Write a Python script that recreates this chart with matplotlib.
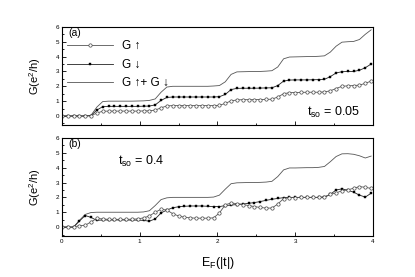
import numpy as np
import matplotlib
matplotlib.use("Agg")
import matplotlib.pyplot as plt
from matplotlib.lines import Line2D
from matplotlib.ticker import MultipleLocator

plt.rcParams["font.family"] = ["Liberation Sans", "DejaVu Sans"]
plt.rcParams["mathtext.default"] = "regular"

# energy grid E_F (|t|)
EF = np.round(np.arange(54) * 0.075, 3)

# ── (a) t_so = 0.05 ────────────────────────────────────────────────────────
A_UP = [0, 0, 0, 0, 0, 0.02, 0.20, 0.32, 0.33, 0.33, 0.33, 0.33, 0.33, 0.33,
        0.34, 0.35, 0.40, 0.55, 0.68, 0.70, 0.70, 0.70, 0.70, 0.70, 0.70, 0.70,
        0.70, 0.72, 0.85, 1.02, 1.08, 1.10, 1.10, 1.10, 1.11, 1.12, 1.13, 1.28,
        1.50, 1.57, 1.58, 1.59, 1.60, 1.60, 1.60, 1.62, 1.70, 1.85, 2.00, 2.03,
        2.05, 2.08, 2.20, 2.35]
A_DN = [0, 0, 0, 0, 0, 0.03, 0.40, 0.63, 0.65, 0.65, 0.65, 0.65, 0.65, 0.65,
        0.66, 0.67, 0.75, 1.05, 1.25, 1.28, 1.28, 1.28, 1.28, 1.28, 1.28, 1.28,
        1.28, 1.30, 1.45, 1.78, 1.86, 1.87, 1.87, 1.87, 1.88, 1.89, 1.90, 2.05,
        2.35, 2.42, 2.43, 2.43, 2.43, 2.44, 2.45, 2.47, 2.65, 2.90, 2.98, 3.00,
        3.00, 3.08, 3.25, 3.50]
A_TOT = [0, 0, 0, 0, 0, 0.05, 0.60, 0.97, 1.00, 1.00, 1.00, 1.00, 1.00, 1.01,
         1.02, 1.05, 1.15, 1.60, 1.95, 2.00, 2.00, 2.00, 2.00, 2.00, 2.00, 2.00,
         2.02, 2.05, 2.30, 2.80, 2.97, 2.98, 2.99, 3.00, 3.00, 3.02, 3.05, 3.30,
         3.85, 3.97, 3.98, 3.99, 4.00, 4.00, 4.02, 4.05, 4.30, 4.70, 4.97, 5.00,
         5.02, 5.15, 5.50, 5.80]

# ── (b) t_so = 0.4 ─────────────────────────────────────────────────────────
B_UP = [0, 0, 0, 0.10, 0.12, 0.35, 0.58, 0.55, 0.52, 0.52, 0.52, 0.52, 0.53,
        0.55, 0.62, 0.75, 1.00, 1.20, 1.15, 0.90, 0.75, 0.66, 0.62, 0.60, 0.60,
        0.60, 0.62, 0.95, 1.50, 1.62, 1.58, 1.52, 1.45, 1.38, 1.32, 1.28, 1.28,
        1.55, 1.92, 1.98, 1.99, 2.00, 2.00, 2.00, 2.00, 2.05, 2.20, 2.30, 2.45,
        2.50, 2.62, 2.72, 2.68, 2.60]
B_DN = [0, 0, 0, 0.40, 0.78, 0.65, 0.45, 0.48, 0.48, 0.48, 0.48, 0.48, 0.47,
        0.47, 0.45, 0.40, 0.55, 0.95, 1.15, 1.30, 1.37, 1.40, 1.42, 1.42, 1.42,
        1.40, 1.38, 1.38, 1.45, 1.48, 1.52, 1.55, 1.60, 1.65, 1.72, 1.80, 1.87,
        1.93, 1.98, 2.00, 2.00, 2.00, 2.00, 2.00, 2.00, 2.00, 2.20, 2.50, 2.57,
        2.48, 2.35, 2.15, 2.02, 2.28]
B_TOT = [0, 0, 0, 0.45, 0.85, 0.98, 1.00, 1.00, 1.00, 1.00, 1.00, 1.00, 1.00,
         1.00, 1.02, 1.10, 1.45, 1.85, 1.97, 2.00, 2.00, 2.00, 2.00, 2.00, 2.00,
         2.00, 2.02, 2.15, 2.55, 2.92, 2.98, 2.99, 3.00, 3.00, 3.01, 3.03, 3.08,
         3.40, 3.85, 3.98, 3.98, 3.99, 4.00, 4.00, 4.02, 4.08, 4.40, 4.75, 4.93,
         4.94, 4.90, 4.80, 4.65, 4.78]

LABELS = ["G \u2191", "G \u2193", "G \u2191+ G \u2193"]

fig = plt.figure(figsize=(4.15, 2.77), dpi=100)
fig.patch.set_facecolor("white")
ax_a = fig.add_axes([0.149, 0.549, 0.750, 0.354])
ax_b = fig.add_axes([0.149, 0.148, 0.750, 0.354])

LW = 0.6
for ax, up, dn, tot in ((ax_a, A_UP, A_DN, A_TOT), (ax_b, B_UP, B_DN, B_TOT)):
    ax.plot(EF, tot, color="#555555", lw=LW)
    ax.plot(EF, dn, color="#222222", lw=LW, marker="s", ms=2.0,
            mfc="black", mec="black", mew=0.3)
    ax.plot(EF, up, color="#555555", lw=LW, marker="o", ms=2.4,
            mfc="white", mec="#444444", mew=0.5)
    ax.set_xlim(0, 4)
    ax.set_ylim(-0.6, 6)
    ax.xaxis.set_major_locator(MultipleLocator(1))
    ax.xaxis.set_minor_locator(MultipleLocator(0.5))
    ax.yaxis.set_major_locator(MultipleLocator(1))
    ax.yaxis.set_minor_locator(MultipleLocator(0.5))
    ax.tick_params(which="both", direction="in", labelsize=4.5, width=0.6,
                   pad=2)
    ax.tick_params(which="major", length=3)
    ax.tick_params(which="minor", length=1.5)
    for sp in ax.spines.values():
        sp.set_linewidth(0.8)
    ax.set_ylabel("G(e$^2$/h)", fontsize=8, labelpad=9)

ax_a.tick_params(axis="x", which="both", labelbottom=False)

handles = [
    Line2D([], [], color="#555555", lw=LW, marker="o", ms=2.4,
           mfc="white", mec="#444444", mew=0.5),
    Line2D([], [], color="#222222", lw=LW, marker="s", ms=2.0,
           mfc="black", mec="black", mew=0.3),
    Line2D([], [], color="#555555", lw=LW),
]
ax_a.legend(handles, LABELS, loc="upper left", bbox_to_anchor=(-0.005, 0.935),
            frameon=False, fontsize=8.5, numpoints=1, handlelength=3.9,
            handletextpad=0.7, labelspacing=0.55, borderaxespad=0.2)

ax_a.text(0.02, 0.985, "(a)", transform=ax_a.transAxes, fontsize=7.5,
          ha="left", va="top")
ax_b.text(0.02, 0.985, "(b)", transform=ax_b.transAxes, fontsize=7.5,
          ha="left", va="top")
ax_a.text(0.96, 0.13, "t$_{so}$ = 0.05", transform=ax_a.transAxes,
          fontsize=9, ha="right", va="center")
ax_b.text(0.18, 0.76, "t$_{so}$ = 0.4", transform=ax_b.transAxes,
          fontsize=9, ha="left", va="center")

ax_b.set_xlabel("E$_F$(|t|)", fontsize=9, labelpad=8)

fig.savefig("out.png", dpi=100, facecolor="white")
